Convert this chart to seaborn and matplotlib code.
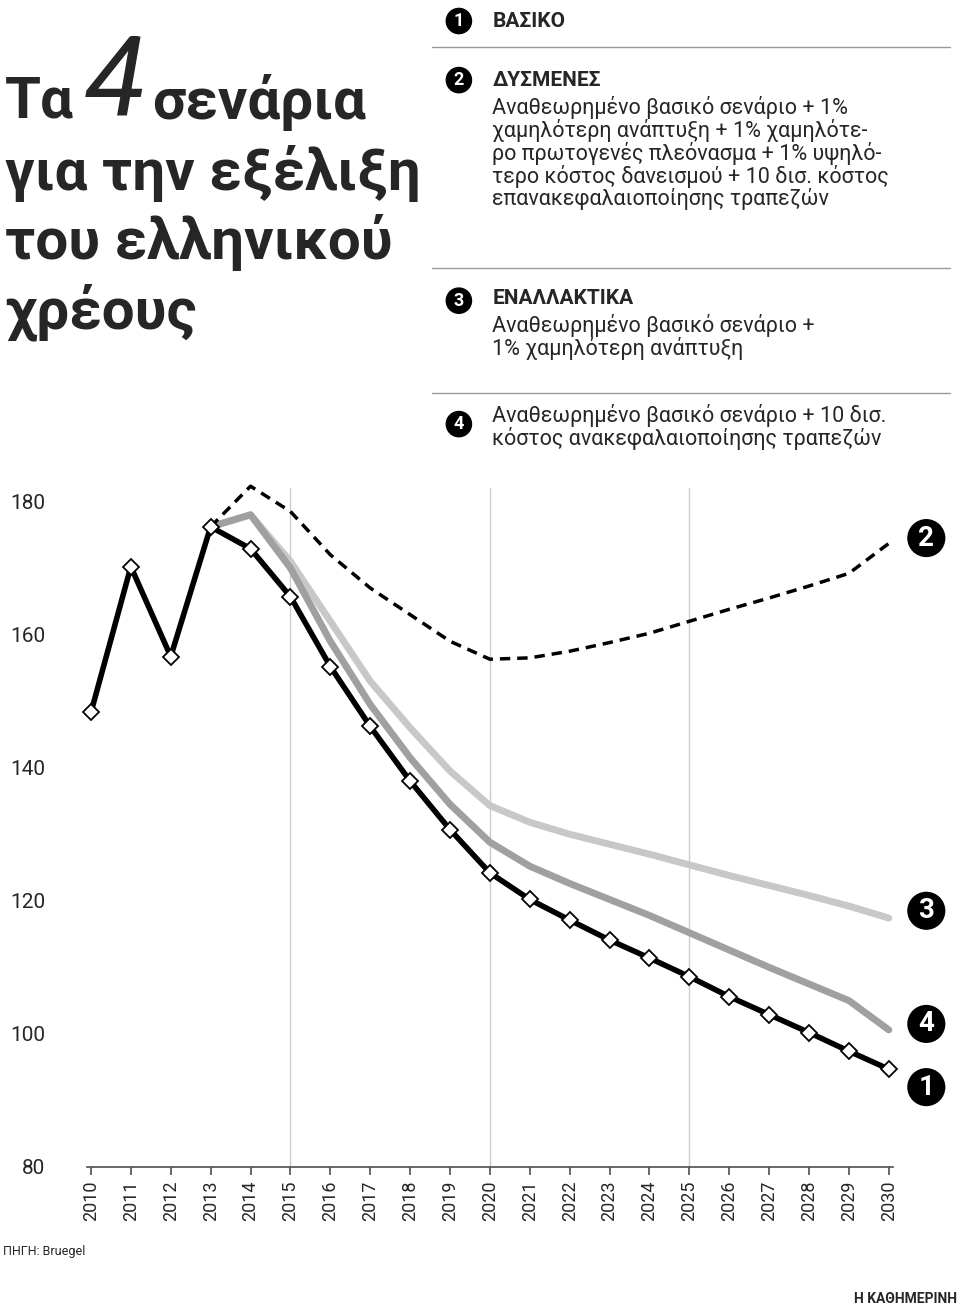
import matplotlib
matplotlib.use("Agg")
import matplotlib.pyplot as plt
import seaborn as sns
import pandas as pd

years = list(range(2010, 2031))
basic = [148.3,170.2,156.7,176.2,172.9,165.7,155.2,146.2,138.0,130.7,124.2,120.2,117.1,114.1,111.4,108.6,105.6,102.9,100.2,97.4,94.7]
sc_years = list(range(2013, 2031))
adverse = [176.2,182.3,178.5,172.0,167.0,163.0,159.0,156.3,156.5,157.5,158.8,160.2,162.0,163.8,165.5,167.3,169.2,173.7]
alternative = [176.2,178.0,171.0,162.0,153.0,146.0,139.5,134.3,131.8,130.0,128.5,127.0,125.4,123.8,122.3,120.8,119.2,117.4]
bankcost = [176.2,178.0,170.0,159.0,149.5,141.5,134.5,128.8,125.2,122.6,120.2,117.8,115.2,112.6,110.0,107.5,105.0,100.6]
yticks = [80,100,120,140,160,180]

sns.set_theme(style="white")
plt.rcParams['font.family'] = ['Roboto', 'DejaVu Sans']

fig = plt.figure(figsize=(9.6,13.13), dpi=100)
ax = fig.add_axes([0.0906, 0.1112, 0.8394, 0.517])

for x in [2015,2020,2025]:
    ax.axvline(x, color="#cccccc", lw=1, zorder=0)

df3 = pd.DataFrame({"year": sc_years, "v": alternative})
df4 = pd.DataFrame({"year": sc_years, "v": bankcost})
df2 = pd.DataFrame({"year": sc_years, "v": adverse})
df1 = pd.DataFrame({"year": years, "v": basic})
sns.lineplot(data=df3, x="year", y="v", ax=ax, color="#c8c8c8", lw=5, zorder=2)
sns.lineplot(data=df4, x="year", y="v", ax=ax, color="#a0a0a0", lw=5, zorder=3)
sns.lineplot(data=df2, x="year", y="v", ax=ax, color="black", lw=2.5, ls=(0,(3,2)), zorder=4)
sns.lineplot(data=df1, x="year", y="v", ax=ax, color="black", lw=4, zorder=5,
             marker="D", markersize=8, markerfacecolor="white", markeredgecolor="black", markeredgewidth=1.3)
for l in ax.lines:
    l.set_clip_on(False)

ax.set_xlim(2009.9, 2030.1)
ax.set_ylim(80, 182)
ax.set_yticks(yticks)
ax.set_yticklabels([str(t) for t in yticks], fontsize=15)
ax.set_xticks(years)
ax.set_xticklabels([str(y) for y in years], rotation=90, fontsize=13)
ax.set_xlabel(""); ax.set_ylabel("")
for s in ["top","right","left"]:
    ax.spines[s].set_visible(False)
ax.spines["bottom"].set_color("#555555")
ax.tick_params(axis="y", length=0, pad=30)
ax.tick_params(axis="x", length=6, color="#555555", direction="out", bottom=True)
ax.grid(False)

# end labels
for num, yv in [("2",174.5),("3",118.5),("4",101.5),("1",92.0)]:
    ax.annotate(num, xy=(2030, yv), xytext=(27, 0), textcoords="offset points", ha="center", va="center",
                fontsize=20, fontweight="bold", color="white", annotation_clip=False,
                bbox=dict(boxstyle="circle,pad=0.25", fc="black", ec="white", lw=2))

# title
fig.text(0.005, 0.922, "Τα", fontsize=42, fontweight="bold", va="center", ha="left")
fig.text(0.088, 0.935, "4", fontsize=80, style="italic", va="center", ha="left")
fig.text(0.158, 0.922, "σενάρια", fontsize=42, fontweight="bold", va="center", ha="left")
fig.text(0.005, 0.868, "για την εξέλιξη", fontsize=42, fontweight="bold", va="center", ha="left")
fig.text(0.005, 0.815, "του ελληνικού", fontsize=42, fontweight="bold", va="center", ha="left")
fig.text(0.005, 0.762, "χρέους", fontsize=42, fontweight="bold", va="center", ha="left")

# legend
def circ(y, n):
    fig.text(0.478, y, n, fontsize=13, fontweight="bold", color="white", ha="center", va="center",
             bbox=dict(boxstyle="circle,pad=0.2", fc="black", ec="black"))
FS = 15.5
circ(0.984, "1")
fig.text(0.513, 0.984, "ΒΑΣΙΚΟ", fontsize=15, fontweight="bold", va="center")
fig.lines.append(plt.Line2D([0.45,0.99],[0.964,0.964], transform=fig.transFigure, color="#999999", lw=1))
circ(0.939, "2")
fig.text(0.513, 0.939, "ΔΥΣΜΕΝΕΣ", fontsize=15, fontweight="bold", va="center")
fig.text(0.513, 0.927, "Αναθεωρημένο βασικό σενάριο + 1%\nχαμηλότερη ανάπτυξη + 1% χαμηλότε-\nρο πρωτογενές πλεόνασμα + 1% υψηλό-\nτερο κόστος δανεισμού + 10 δισ. κόστος\nεπανακεφαλαιοποίησης τραπεζών",
         fontsize=FS, va="top", linespacing=1.0)
fig.lines.append(plt.Line2D([0.45,0.99],[0.796,0.796], transform=fig.transFigure, color="#999999", lw=1))
circ(0.771, "3")
fig.text(0.513, 0.773, "ΕΝΑΛΛΑΚΤΙΚΑ", fontsize=15, fontweight="bold", va="center")
fig.text(0.513, 0.761, "Αναθεωρημένο βασικό σενάριο +\n1% χαμηλότερη ανάπτυξη", fontsize=FS, va="top", linespacing=1.0)
fig.lines.append(plt.Line2D([0.45,0.99],[0.701,0.701], transform=fig.transFigure, color="#999999", lw=1))
circ(0.677, "4")
fig.text(0.513, 0.692, "Αναθεωρημένο βασικό σενάριο + 10 δισ.\nκόστος ανακεφαλαιοποίησης τραπεζών", fontsize=FS, va="top", linespacing=1.0)

fig.text(0.003, 0.047, "ΠΗΓΗ: Bruegel", fontsize=9, va="center")
fig.text(0.997, 0.005, "Η ΚΑΘΗΜΕΡΙΝΗ", fontsize=10, fontweight="bold", ha="right", va="bottom")

fig.savefig("out.png", dpi=100)
